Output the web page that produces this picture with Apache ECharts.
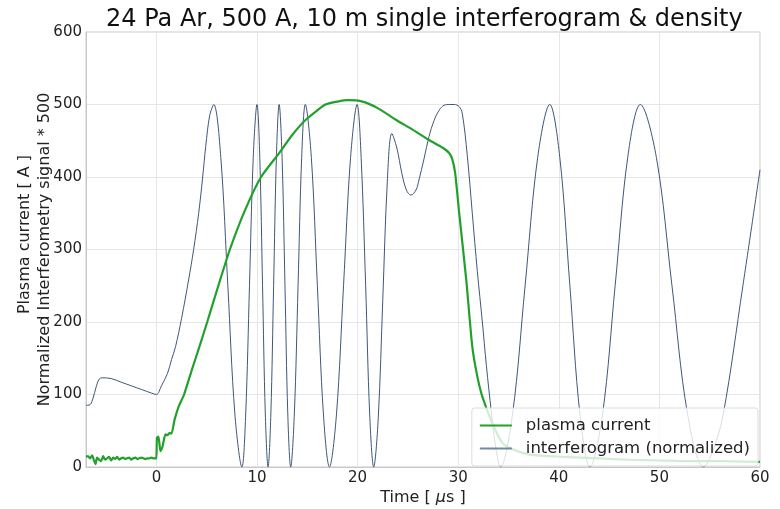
<!DOCTYPE html>
<html>
<head>
<meta charset="utf-8">
<script src="https://cdn.jsdelivr.net/npm/echarts@6/dist/echarts.min.js"></script>
<style>
html,body{margin:0;padding:0;background:#fff;}
#chart{width:780px;height:509px;}
</style>
</head>
<body>
<div id="chart"></div>
<script>
// ---- data ----
var titleText = '24 Pa Ar, 500 A, 10 m single interferogram & density';
var seriesNames = ['plasma current', 'interferogram (normalized)'];

// plasma current [A] vs time [us]
var currentT = [-7.0,-6.8,-6.6,-6.4,-6.2,-6.05,-5.9,-5.7,-5.5,-5.3,-5.1,-4.9,-4.7,-4.5,-4.3,-4.1,-3.9,-3.7,-3.5,-3.3,-3.1,-2.9,-2.7,-2.5,-2.3,-2.1,-1.9,-1.7,-1.5,-1.3,-1.1,-0.9,-0.7,-0.5,-0.3,-0.1,0.0,
  0.05,0.2,0.4,0.6,0.9,1.1,1.3,1.5,1.8,2.2,2.75,3.5,4.3,5.05,6.2,7.3,8.8,10.4,12.2,13.5,14.85,16.8,18.0,19.0,20.5,22.0,23.8,25.5,27.1,28.5,29.1,29.4,29.7,30.1,30.8,31.4,31.9,32.4,33.4,34.4,35.5,37.1,40.4,44.0,47.0,50.0,53.0,56.0,60.0];
var currentV = [14,15,12,16,9,4,13,10,8,15,10,12,14,9,13,11,14,10,12,13,11,12,13,10,12,13,11,12,13,12,11,12,12,13,12,12,12,
  40,42,22,28,45,44,47,46,65,83,100,133,167,200,252,300,354,400,433,458,479,500,504,506,504,495,479,465,451,440,433,425,405,350,258,166,125,97,60,33,24,17,14,12,10,9,8,8,7];

// interferometry signal * 500 vs time [us]
var interfT = [-7.0,-6.6,-6.3,-6.0,-5.7,-5.4,-4.5,-3.5,-2.5,-1.5,-0.5,0.0,
  0.5,1.1,1.5,1.9,2.5,3.2,3.7,4.2,4.6,4.9,5.3,5.7,
  6.4,7.1,7.8,8.5,
  8.875,9.25,9.625,10.0,
  10.275,10.55,10.825,11.1,
  11.375,11.65,11.925,12.2,
  12.49,12.78,13.06,13.35,
  13.71,14.08,14.44,14.8,
  15.4,16.0,16.6,17.2,
  17.9,18.6,19.3,19.95,
  20.35,20.8,21.2,21.6,
  22.05,22.5,22.95,23.4,
  23.9,24.4,24.85,25.3,
  25.8,26.1,26.6,27.1,27.6,28.1,28.6,29.1,29.6,30.1,30.4,30.9,31.4,31.9,32.4,32.8,33.3,33.75,34.2,
  35.4,36.65,37.9,39.1,
  40.1,41.1,42.1,43.1,
  44.35,45.6,46.85,48.1,
  49.7,51.25,52.8,54.4,
  55.3,56.35,58.3,60.0];
var interfV = [85,86,95,110,121,123,122,117,112,107,102,100,
  112,129,148,166,205,258,300,350,400,442,485,500,
  427,250,73,0,
  73,250,427,500,
  427,250,73,0,
  73,250,427,500,
  427,250,73,0,
  73,250,427,500,
  427,250,73,0,
  73,250,427,500,
  427,250,73,0,
  67,230,393,460,
  440,405,382,375,
  382,396,425,456,478,492,499,500,500,497,488,430,350,270,200,140,75,25,0,
  73,250,427,500,
  427,250,73,0,
  73,250,427,500,
  427,250,73,0,
  22,73,250,410];

var xTicks = [0,10,20,30,40,50,60];
var yTicks = [0,100,200,300,400,500,600];

function zip(a, b) { var out = []; for (var i = 0; i < a.length; i++) out.push([a[i], b[i]]); return out; }

var FONT = '"DejaVu Sans", sans-serif';
var chart = echarts.init(document.getElementById('chart'), null, {renderer: 'canvas'});
chart.setOption({
  backgroundColor: '#ffffff',
  animation: false,
  title: {
    text: titleText,
    left: 101, top: 3,
    textStyle: {fontFamily: FONT, fontSize: 24, fontWeight: 'normal', color: '#111'}
  },
  grid: {left: 86, right: 20, top: 32, bottom: 42, show: true, borderColor: '#c8c8c8', borderWidth: 1,
    containLabel: false, outerBoundsMode: 'none'},
  legend: {
    orient: 'vertical',
    right: 22, bottom: 43,
    padding: [9, 8, 9, 8],
    itemGap: 6,
    itemWidth: 32, itemHeight: 2,
    icon: 'rect',
    backgroundColor: 'rgba(255,255,255,0.8)',
    borderColor: '#dcdcdc', borderWidth: 1, borderRadius: 3,
    textStyle: {fontFamily: FONT, fontSize: 16.5, color: '#222', padding: [0, 0, 0, 9]},
    data: seriesNames
  },
  xAxis: {
    type: 'value', min: -7, max: 60, splitNumber: 7,
    name: 'Time [ {i|μ}s ]', nameLocation: 'middle', nameGap: 23, nameMoveOverlap: false,
    nameTextStyle: {fontFamily: FONT, fontSize: 16, color: '#222', rich: {i: {fontFamily: FONT, fontSize: 16, fontStyle: 'italic', color: '#222'}}},
    axisLine: {show: true, onZero: false, lineStyle: {color: '#c8c8c8'}},
    axisTick: {show: false},
    axisLabel: {fontFamily: FONT, fontSize: 15, color: '#222', margin: 4, showMinLabel: false,
      formatter: function (v) { return xTicks.indexOf(v) >= 0 ? String(v) : ''; }},
    splitLine: {show: true, lineStyle: {color: '#e6e6e6'}}
  },
  yAxis: {
    type: 'value', min: 0, max: 600, interval: 100,
    name: '{p|Plasma current [ A ]}\n{n|Normalized Interferometry signal * 500}',
    nameLocation: 'middle', nameGap: 31, nameRotate: 90, nameMoveOverlap: false,
    nameTextStyle: {fontFamily: FONT, fontSize: 16, color: '#222', lineHeight: 20, align: 'center',
      rich: {
        p: {fontFamily: FONT, fontSize: 16, color: '#222', lineHeight: 20, padding: [0, 0, 0, 30]},
        n: {fontFamily: FONT, fontSize: 16, color: '#222', lineHeight: 20}
      }},
    axisLine: {show: true, onZero: false, lineStyle: {color: '#c8c8c8'}},
    axisTick: {show: false},
    axisLabel: {fontFamily: FONT, fontSize: 15, color: '#222', margin: 4,
      formatter: function (v) { return yTicks.indexOf(v) >= 0 ? String(v) : ''; }},
    splitLine: {show: true, lineStyle: {color: '#e6e6e6'}}
  },
  series: [
    {
      name: seriesNames[0], type: 'line', data: zip(currentT, currentV),
      symbol: 'none', smooth: 0.2, z: 3,
      lineStyle: {color: '#21a02b', width: 2.2}, itemStyle: {color: '#21a02b'}
    },
    {
      name: seriesNames[1], type: 'line', data: zip(interfT, interfV),
      symbol: 'none', smooth: 0.35, z: 2,
      lineStyle: {color: '#3d5879', width: 1}, itemStyle: {color: '#7388a3'}
    }
  ]
});
</script>
</body>
</html>
